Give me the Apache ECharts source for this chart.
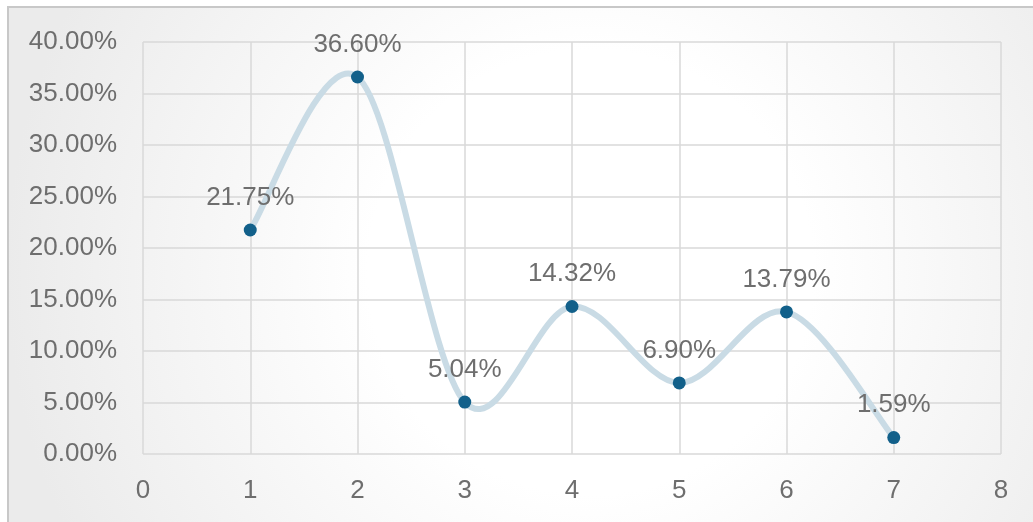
<!DOCTYPE html>
<html><head><meta charset="utf-8">
<script src="https://cdn.jsdelivr.net/npm/echarts@6/dist/echarts.min.js"></script>
<style>html,body{margin:0;padding:0;background:#fff}#c{width:1033px;height:522px}</style>
</head><body><div id="c"></div>
<script>
const xValues = [1, 2, 3, 4, 5, 6, 7];
const yValues = [21.75, 36.60, 5.04, 14.32, 6.90, 13.79, 1.59];
const xTicks = [0, 1, 2, 3, 4, 5, 6, 7, 8];
const yTicks = [0, 5, 10, 15, 20, 25, 30, 35, 40];

const pts = xValues.map((x, i) => [x, yValues[i]]);
const chart = echarts.init(document.getElementById('c'));
const font = 'Liberation Sans, Arial, sans-serif';

// Excel-like (Catmull-Rom) smoothed curve drawn through the chart's own coordinate system
function renderCurve(params, api) {
  if (params.dataIndex !== 0) return null;
  const P = pts.map(p => api.coord(p));
  const n = P.length;
  let d = 'M' + P[0][0] + ' ' + P[0][1];
  for (let i = 0; i < n - 1; i++) {
    const p0 = P[Math.max(i - 1, 0)], p1 = P[i], p2 = P[i + 1], p3 = P[Math.min(i + 2, n - 1)];
    const c1 = [p1[0] + (p2[0] - p0[0]) / 6, p1[1] + (p2[1] - p0[1]) / 6];
    const c2 = [p2[0] - (p3[0] - p1[0]) / 6, p2[1] - (p3[1] - p1[1]) / 6];
    d += ' C' + c1[0] + ' ' + c1[1] + ' ' + c2[0] + ' ' + c2[1] + ' ' + p2[0] + ' ' + p2[1];
  }
  return {
    type: 'path',
    shape: { pathData: d },
    style: { fill: null, stroke: '#c9dbe5', lineWidth: 6, lineCap: 'round', lineJoin: 'round' }
  };
}

chart.setOption({
  animation: false,
  graphic: [{
    type: 'rect', z: -10, silent: true,
    shape: { x: 8, y: 7, width: 1040, height: 530 },
    style: {
      fill: { type: 'radial', x: 0.56, y: 0.5, r: 1.1,
        colorStops: [{ offset: 0, color: '#ffffff' }, { offset: 0.38, color: '#ffffff' }, { offset: 1, color: '#ebebeb' }] },
      stroke: '#c8c8c8', lineWidth: 2
    }
  }],
  grid: { left: 143, right: 32, top: 42, bottom: 68 },
  xAxis: {
    type: 'value', min: xTicks[0], max: xTicks[xTicks.length - 1], interval: 1,
    axisLine: { show: false }, axisTick: { show: false },
    axisLabel: { color: '#6e6e6e', fontSize: 26, fontFamily: font, margin: 24 },
    splitLine: { show: true, lineStyle: { color: '#d9d9d9', width: 1.5 } }
  },
  yAxis: {
    type: 'value', min: yTicks[0], max: yTicks[yTicks.length - 1], interval: 5,
    axisLine: { show: false }, axisTick: { show: false },
    axisLabel: { color: '#6e6e6e', fontSize: 26, fontFamily: font, margin: 26,
      formatter: v => v.toFixed(2) + '%' },
    splitLine: { show: true, lineStyle: { color: '#d9d9d9', width: 1.5 } }
  },
  series: [{
    type: 'custom',
    renderItem: renderCurve,
    data: pts,
    z: 1, silent: true
  }, {
    type: 'line',
    data: pts,
    z: 2,
    symbol: 'circle', symbolSize: 13,
    itemStyle: { color: '#12608a' },
    lineStyle: { width: 0, opacity: 0 },
    label: { show: true, position: 'top', distance: 13, color: '#6e6e6e', fontSize: 26, fontFamily: font,
      formatter: p => p.value[1].toFixed(2) + '%' }
  }]
});
</script></body></html>
